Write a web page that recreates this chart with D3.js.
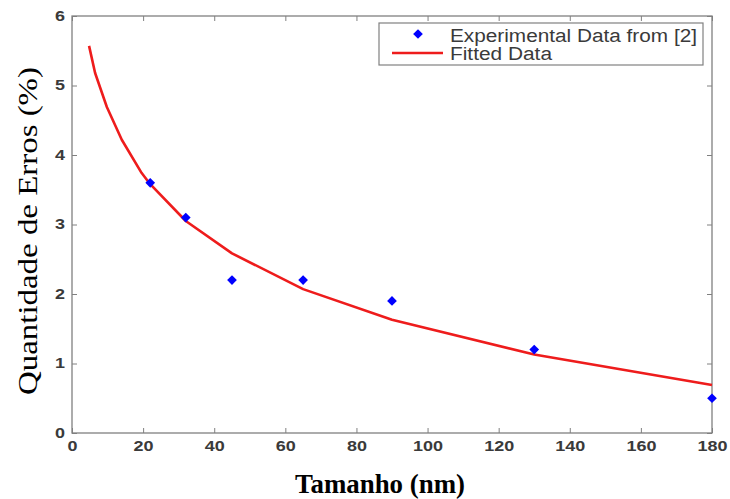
<!DOCTYPE html>
<html><head><meta charset="utf-8">
<script src="https://cdn.jsdelivr.net/npm/d3@7/dist/d3.min.js"></script>
<style>body{margin:0;background:#fff}svg{display:block}</style>
</head><body>
<script>
const expX = [22, 32, 45, 65, 90, 130, 180];
const expY = [3.6, 3.1, 2.2, 2.2, 1.9, 1.2, 0.5];
const fitX = [4.8, 6.5, 9.8, 14, 19.6, 22, 32, 45, 65, 90, 130, 180];
const fitY = [5.57, 5.18, 4.69, 4.22, 3.74, 3.58, 3.05, 2.585, 2.07, 1.63, 1.13, 0.69];
const xTicks = [0, 20, 40, 60, 80, 100, 120, 140, 160, 180];
const yTicks = [0, 1, 2, 3, 4, 5, 6];
const legendLabels = ["Experimental Data from [2]", "Fitted Data"];

const W = 730, H = 499;
const L = 72, R = 712, T = 16, B = 433;
const svg = d3.select("body").append("svg").attr("width", W).attr("height", H);
const x = d3.scaleLinear().domain([0, 180]).range([L, R]);
const y = d3.scaleLinear().domain([0, 6]).range([B, T]);
const axisColor = "#808080";
const sans = "Liberation Sans, Arial, sans-serif";

function styleAxis(g, labels) {
  g.select(".domain").remove();
  g.selectAll(".tick line").attr("stroke", axisColor).attr("stroke-width", 1);
  const t = g.selectAll(".tick text");
  if (!labels) { t.remove(); return; }
  t.attr("fill", "#3a3a3a").style("font-family", sans).style("font-size", "14px")
    .style("font-weight", "bold")
    .attr("textLength", function() { return this.textContent.length * 10; })
    .attr("lengthAdjust", "spacingAndGlyphs");
}
svg.append("g").attr("transform", `translate(0,${B})`)
  .call(d3.axisBottom(x).tickValues(xTicks).tickSize(-5).tickPadding(8).tickFormat(d3.format("d")))
  .call(g => styleAxis(g, true));
svg.append("g").attr("transform", `translate(0,${T})`)
  .call(d3.axisTop(x).tickValues(xTicks).tickSize(-5).tickFormat(""))
  .call(g => styleAxis(g, false));
svg.append("g").attr("transform", `translate(${L},0)`)
  .call(d3.axisLeft(y).tickValues(yTicks).tickSize(-5).tickPadding(7).tickFormat(d3.format("d")))
  .call(g => styleAxis(g, true));
svg.append("g").attr("transform", `translate(${R},0)`)
  .call(d3.axisRight(y).tickValues(yTicks).tickSize(-5).tickFormat(""))
  .call(g => styleAxis(g, false));

svg.append("rect").attr("x", L).attr("y", T).attr("width", R - L).attr("height", B - T)
  .attr("fill", "none").attr("stroke", axisColor).attr("stroke-width", 1.3);

const fit = fitX.map((v, i) => [v, fitY[i]]);
svg.append("path").datum(fit)
  .attr("d", d3.line().x(d => x(d[0])).y(d => y(d[1])).curve(d3.curveLinear))
  .attr("fill", "none").attr("stroke", "#ee1c1c").attr("stroke-width", 2.6)
  .attr("stroke-linejoin", "round");

const diamond = d3.symbol().type(d3.symbolDiamond2).size(60);
svg.selectAll(".pt").data(expX.map((v, i) => [v, expY[i]])).enter().append("path")
  .attr("d", diamond).attr("fill", "#0000ff")
  .attr("transform", d => `translate(${x(d[0])},${y(d[1])})`);

// legend
const lg = svg.append("g");
lg.append("rect").attr("x", 379).attr("y", 23).attr("width", 324).attr("height", 42)
  .attr("fill", "#fff").attr("stroke", axisColor).attr("stroke-width", 1.2);
lg.append("path").attr("d", diamond).attr("fill", "#0000ff").attr("transform", "translate(418,34)");
lg.append("line").attr("x1", 392).attr("x2", 443).attr("y1", 53).attr("y2", 53)
  .attr("stroke", "#ee1c1c").attr("stroke-width", 2.6);
const legLen = [247, 102];
lg.selectAll("text").data(legendLabels).enter().append("text")
  .attr("x", 450).attr("y", (d, i) => i === 0 ? 41.5 : 60)
  .attr("fill", "#3a3a3a").style("font-family", sans).style("font-size", "18px")
  .attr("textLength", (d, i) => legLen[i]).attr("lengthAdjust", "spacingAndGlyphs")
  .text(d => d);

svg.append("text").attr("transform", "translate(37,231) rotate(-90)")
  .attr("text-anchor", "middle").style("font-family", "Liberation Serif, Times New Roman, serif")
  .style("font-size", "28px").attr("fill", "#000")
  .attr("textLength", 328).attr("lengthAdjust", "spacingAndGlyphs")
  .text("Quantidade de Erros (%)");
svg.append("text").attr("x", 380).attr("y", 493).attr("text-anchor", "middle")
  .style("font-family", "Liberation Serif, Times New Roman, serif").style("font-weight", "bold")
  .style("font-size", "27px").attr("fill", "#000")
  .attr("textLength", 170).attr("lengthAdjust", "spacingAndGlyphs")
  .text("Tamanho (nm)");
</script>
</body></html>
